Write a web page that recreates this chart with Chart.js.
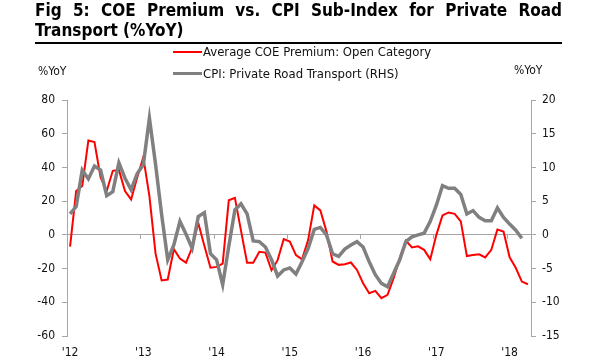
<!DOCTYPE html>
<html>
<head>
<meta charset="utf-8">
<script src="https://cdn.jsdelivr.net/npm/chart.js@4.4.1/dist/chart.umd.min.js"></script>
<style>
  html, body { margin: 0; padding: 0; background: #fff; }
  #wrap { position: relative; width: 600px; height: 360px; overflow: hidden; }
  #c { position: absolute; left: 0; top: 0; }
  .ovl { position: absolute; font-family: 'DejaVu Sans Condensed', 'DejaVu Sans', sans-serif; color: #111; white-space: nowrap; }
  #title { left: 35px; top: 0px; width: 527px; font-size: 17px; line-height: 20px; font-weight: bold; text-align: justify; text-align-last: left; white-space: normal; color: #000; }
  #rule { position: absolute; left: 35px; top: 42px; width: 527px; height: 2px; background: #000; }
  .leg { font-size: 13px; line-height: 16px; }
  .legline { position: absolute; height: 2px; width: 29px; }
  .unit { font-size: 12px; line-height: 14px; }
</style>
</head>
<body>
<div id="wrap">
  <canvas id="c" width="600" height="360"></canvas>
  <div id="title" class="ovl">Fig 5: COE Premium vs. CPI Sub-Index for Private Road Transport (%YoY)</div>
  <div id="rule"></div>
  <div class="legline" style="left:173px; top:51px; background:#ff0000;"></div>
  <div class="ovl leg" style="left:203px; top:44px;">Average COE Premium: Open Category</div>
  <div class="legline" style="left:173px; top:72px; height:3px; background:#808080;"></div>
  <div class="ovl leg" style="left:203px; top:66px;">CPI: Private Road Transport (RHS)</div>
  <div class="ovl unit" style="left:38px; top:64px;">%YoY</div>
  <div class="ovl unit" style="left:514px; top:63px;">%YoY</div>
</div>
<script>
// Monthly categories Jan 2012 .. Apr 2018
const months = [
  "Jan-12","Feb-12","Mar-12","Apr-12","May-12","Jun-12","Jul-12","Aug-12","Sep-12","Oct-12","Nov-12","Dec-12",
  "Jan-13","Feb-13","Mar-13","Apr-13","May-13","Jun-13","Jul-13","Aug-13","Sep-13","Oct-13","Nov-13","Dec-13",
  "Jan-14","Feb-14","Mar-14","Apr-14","May-14","Jun-14","Jul-14","Aug-14","Sep-14","Oct-14","Nov-14","Dec-14",
  "Jan-15","Feb-15","Mar-15","Apr-15","May-15","Jun-15","Jul-15","Aug-15","Sep-15","Oct-15","Nov-15","Dec-15",
  "Jan-16","Feb-16","Mar-16","Apr-16","May-16","Jun-16","Jul-16","Aug-16","Sep-16","Oct-16","Nov-16","Dec-16",
  "Jan-17","Feb-17","Mar-17","Apr-17","May-17","Jun-17","Jul-17","Aug-17","Sep-17","Oct-17","Nov-17","Dec-17",
  "Jan-18","Feb-18","Mar-18","Apr-18"
];
const yearTickLabels = ["'12","'13","'14","'15","'16","'17","'18"];

// Average COE Premium: Open Category (%YoY, left axis)
const coePremium = [
  -7, 26, 29, 56, 55, 34, 26, 38, 38.5, 26, 21, 34,
  46, 23, -11, -27, -26.5, -8.5, -14, -16.5, -7.5, 7, -6.5, -19.5,
  -19, -17, 20.5, 22, 2.5, -16.5, -16.5, -10, -10.5, -21, -15, -2.5,
  -4, -12, -14.5, -3, 17.5, 14.5, 2, -15.8, -17.8, -17.4, -16.4, -20.8,
  -28.7, -34.6, -33.2, -37.6, -35.6, -25.7, -13.8, -3.4, -7.5, -6.8, -8.9, -14.5,
  0, 11.5, 13.3, 12.5, 8, -12.6, -12, -11.5, -13.4, -8.9, 3.2, 2,
  -13.3, -19.5, -27.7, -29.3
];

// CPI: Private Road Transport (%YoY, right axis)
const cpiRoad = [
  3.1, 4.2, 9.6, 8.3, 10.2, 9.6, 5.8, 6.4, 10.7, 8.4, 6.7, 9.1,
  10.4, 17.3, 10.5, 3.0, -3.7, -1.5, 2.0, 0.1, -2.0, 2.7, 3.3, -2.8,
  -3.7, -7.4, -1.7, 3.7, 4.6, 3.1, -0.9, -1.0, -1.8, -3.7, -6.1, -5.2,
  -4.9, -5.8, -4.0, -2.0, 0.8, 1.1, 0, -2.8, -3.2, -2.1, -1.5, -1.0,
  -1.8, -4.0, -5.9, -7.2, -7.7, -5.7, -3.7, -1.0, -0.3, 0, 0.25, 2.0,
  4.4, 7.3, 6.9, 6.9, 6.0, 3.1, 3.6, 2.6, 2.1, 2.1, 4.0, 2.6,
  1.6, 0.7, -0.5
];

const FONT = "'DejaVu Sans Condensed', 'DejaVu Sans', sans-serif";
const AXIS_GREY = '#a6a6a6';

// small year-boundary tick marks on the zero line
const zeroTicks = {
  id: 'zeroTicks',
  afterDatasetsDraw(chart) {
    const xs = chart.scales.x, ys = chart.scales.y;
    const y0 = ys.getPixelForValue(0);
    const ctx = chart.ctx;
    ctx.save();
    ctx.strokeStyle = AXIS_GREY;
    ctx.lineWidth = 1;
    for (let i = 12; i < months.length; i += 12) {
      const xb = Math.round((xs.getPixelForValue(i - 1) + xs.getPixelForValue(i)) / 2) + 0.5;
      ctx.beginPath();
      ctx.moveTo(xb, y0);
      ctx.lineTo(xb, y0 + 4);
      ctx.stroke();
    }
    ctx.restore();
  }
};

new Chart(document.getElementById('c'), {
  type: 'line',
  data: {
    labels: months,
    datasets: [
      {
        label: 'Average COE Premium: Open Category',
        data: coePremium,
        yAxisID: 'y',
        borderColor: '#ff0000',
        borderWidth: 2,
        pointRadius: 0,
        tension: 0,
        order: 2
      },
      {
        label: 'CPI: Private Road Transport (RHS)',
        data: cpiRoad,
        yAxisID: 'y2',
        borderColor: '#808080',
        borderWidth: 3.5,
        pointRadius: 0,
        tension: 0,
        order: 1
      }
    ]
  },
  options: {
    responsive: false,
    animation: false,
    events: [],
    layout: { padding: { top: 100, left: 0, right: 0, bottom: 0 } },
    plugins: { legend: { display: false }, tooltip: { enabled: false }, title: { display: false } },
    scales: {
      x: {
        type: 'category',
        offset: true,
        grid: { display: false, drawTicks: false, offset: true },
        border: { display: false },
        ticks: {
          autoSkip: false, maxRotation: 0, minRotation: 0, padding: 10,
          color: '#111', font: { family: FONT, size: 12 },
          callback: (v, i) => (i % 12 === 0 ? yearTickLabels[i / 12] : '')
        },
        afterFit: s => { s.height = 24; }
      },
      y: {
        position: 'left',
        min: -60, max: 80,
        ticks: { stepSize: 20, padding: 7, color: '#111', font: { family: FONT, size: 12 } },
        grid: {
          drawOnChartArea: true,
          color: c => (c.tick && c.tick.value === 0 ? AXIS_GREY : 'rgba(0,0,0,0)'),
          tickColor: AXIS_GREY,
          tickLength: 5,
          lineWidth: 1
        },
        border: { display: true, color: AXIS_GREY, width: 1 },
        afterFit: s => { s.width = 67; }
      },
      y2: {
        position: 'right',
        min: -15, max: 20,
        ticks: { stepSize: 5, padding: 6, color: '#111', font: { family: FONT, size: 12 } },
        grid: { drawOnChartArea: false, tickColor: AXIS_GREY, tickLength: 5 },
        border: { display: true, color: AXIS_GREY, width: 1 },
        afterFit: s => { s.width = 69; }
      }
    }
  },
  plugins: [zeroTicks]
});
</script>
</body>
</html>
